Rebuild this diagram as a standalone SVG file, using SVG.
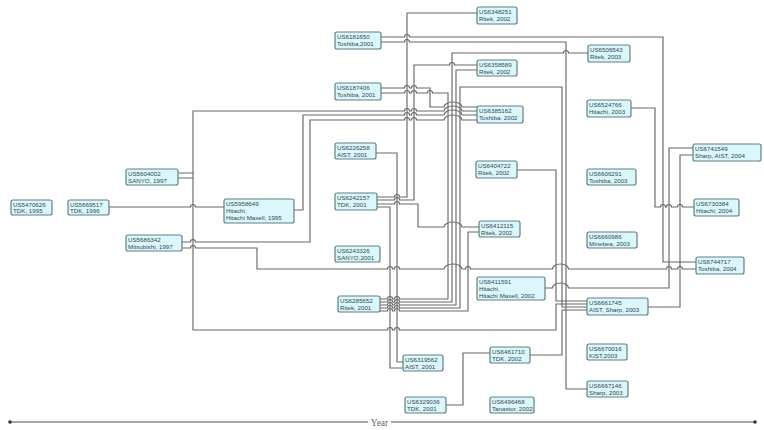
<svg xmlns="http://www.w3.org/2000/svg" width="764" height="430" viewBox="0 0 764 430">
<style>
.n rect{fill:#dcf7fb;stroke:#5f8086;stroke-width:1.2}
.n text{font-family:"Liberation Sans",Arial,sans-serif;font-size:6.2px;fill:#2f4a50}
.c path{fill:none;stroke:#686868;stroke-width:1.15}
.tl{stroke:#555;stroke-width:1}
</style>
<rect width="764" height="430" fill="#ffffff"/>
<g id="connectors" class="c">
<path d="M109 207 H190.5 a2.5 2.5 0 0 1 5 0 H224"/>
<path d="M178 173 H193 V111 H404.5 a2.5 2.5 0 0 1 5 0 H411.5 a2.5 2.5 0 0 1 5 0 H444 a9 5 0 0 1 18 0 H477"/>
<path d="M178 178 H193 M193 173 V330 H387.5 a2.5 2.5 0 0 1 5 0 H394.5 a2.5 2.5 0 0 1 5 0 H556 V304 H587"/>
<path d="M182 242 H190.5 a2.5 2.5 0 0 1 5 0 H310 V120 H404.5 a2.5 2.5 0 0 1 5 0 H411.5 a2.5 2.5 0 0 1 5 0 H444 a9 5 0 0 1 18 0 H477"/>
<path d="M182 248 H190.5 a2.5 2.5 0 0 1 5 0 H257 V269 H387.5 a2.5 2.5 0 0 1 5 0 H394.5 a2.5 2.5 0 0 1 5 0 H444 a9 5 0 0 1 18 0 H465.5 a2.5 2.5 0 0 1 5 0 H552.5 a8 5 0 0 1 16 0 H666.5 a2.5 2.5 0 0 1 5 0 H677.5 a2.5 2.5 0 0 1 5 0 H696"/>
<path d="M294 210 H303 V115 H404.5 a2.5 2.5 0 0 1 5 0 H411.5 a2.5 2.5 0 0 1 5 0 H444 a9 5 0 0 1 18 0 H477"/>
<path d="M381 37 H404.5 a2.5 2.5 0 0 1 5 0 H663 V262 H696"/>
<path d="M381 42 H404.5 a2.5 2.5 0 0 1 5 0 H566 V389 H587"/>
<path d="M377 197 H394.5 a2.5 2.5 0 0 1 5 0 H407 V13 H477"/>
<path d="M377 200 H394.5 a2.5 2.5 0 0 1 5 0 H414 V65 H449.5 a2.5 2.5 0 0 1 5 0 H477"/>
<path d="M377 204 H394.5 a2.5 2.5 0 0 1 5 0 H418 V227 H444 a9 5 0 0 1 18 0 H479"/>
<path d="M377 207 H390 V368 H403"/>
<path d="M376 153 H397 V362 H403"/>
<path d="M381 88 H404.5 a2.5 2.5 0 0 1 5 0 H411.5 a2.5 2.5 0 0 1 5 0 H430 V107 H444 a9 5 0 0 1 18 0 H477"/>
<path d="M381 93 H404.5 a2.5 2.5 0 0 1 5 0 H411.5 a2.5 2.5 0 0 1 5 0 H427.5 a2.5 2.5 0 0 1 5 0 H448 V299 M380 299 H387.5 a2.5 2.5 0 0 1 5 0 H394.5 a2.5 2.5 0 0 1 5 0 H448"/>
<path d="M380 302 H387.5 a2.5 2.5 0 0 1 5 0 H394.5 a2.5 2.5 0 0 1 5 0 H452 V53 H563.5 a2.5 2.5 0 0 1 5 0 H588"/>
<path d="M380 305 H387.5 a2.5 2.5 0 0 1 5 0 H394.5 a2.5 2.5 0 0 1 5 0 H456 V70 H477"/>
<path d="M380 308 H387.5 a2.5 2.5 0 0 1 5 0 H394.5 a2.5 2.5 0 0 1 5 0 H460 V87 H562 V307 H587"/>
<path d="M380 311 H387.5 a2.5 2.5 0 0 1 5 0 H394.5 a2.5 2.5 0 0 1 5 0 H468 V232 H479"/>
<path d="M517 170 H556 V301 H587"/>
<path d="M530 355 H562 V310 H587"/>
<path d="M446 405 H463 V353 H490"/>
<path d="M545 288 H552.5 a8 5 0 0 1 16 0 H669 V148 H693"/>
<path d="M648 307 H680 V155 H693"/>
<path d="M631 108 H655 V207 H660.5 a2.5 2.5 0 0 1 5 0 H666.5 a2.5 2.5 0 0 1 5 0 H677.5 a2.5 2.5 0 0 1 5 0 H694"/>
</g>
<g id="n5470626" class="n"><rect x="11" y="200" width="41" height="15" rx="2"/><text x="13" y="206.5">US5470626</text><text x="13" y="213">TDK, 1995</text></g>
<g id="n5669517" class="n"><rect x="68" y="200" width="41" height="15" rx="2"/><text x="70" y="206.5">US5669517</text><text x="70" y="213">TDK, 1996</text></g>
<g id="n5958649" class="n"><rect x="224" y="199" width="70" height="24" rx="2"/><text x="226" y="206">US5958649</text><text x="226" y="213">Hitachi,</text><text x="226" y="220">Hitachi Maxell, 1995</text></g>
<g id="n5686342" class="n"><rect x="126" y="235" width="56" height="16" rx="2"/><text x="128" y="242">US5686342</text><text x="128" y="248.5">Mitsubishi, 1997</text></g>
<g id="n5604002" class="n"><rect x="126" y="169" width="52" height="16" rx="2"/><text x="128" y="176">US5604002</text><text x="128" y="182.5">SANYO, 1997</text></g>
<g id="n6181650" class="n"><rect x="335" y="32" width="46" height="17" rx="2"/><text x="337" y="39">US6181650</text><text x="337" y="46">Toshiba,2001</text></g>
<g id="n6348251" class="n"><rect x="477" y="7" width="40" height="17" rx="2"/><text x="479" y="14">US6348251</text><text x="479" y="21">Ritek, 2002</text></g>
<g id="n6358589" class="n"><rect x="477" y="60" width="40" height="16" rx="2"/><text x="479" y="67">US6358589</text><text x="479" y="73.5">Ritek, 2002</text></g>
<g id="n6187406" class="n"><rect x="335" y="83" width="46" height="17" rx="2"/><text x="337" y="90">US6187406</text><text x="337" y="97">Toshiba, 2001</text></g>
<g id="n6385162" class="n"><rect x="477" y="106" width="46" height="17" rx="2"/><text x="479" y="113">US6385162</text><text x="479" y="120">Toshiba, 2002</text></g>
<g id="n6226258" class="n"><rect x="335" y="143" width="41" height="16" rx="2"/><text x="337" y="150">US6226258</text><text x="337" y="156.5">AIST, 2001</text></g>
<g id="n6404722" class="n"><rect x="476" y="161" width="41" height="17" rx="2"/><text x="478" y="168">US6404722</text><text x="478" y="175">Ritek, 2002</text></g>
<g id="n6242157" class="n"><rect x="335" y="193" width="42" height="17" rx="2"/><text x="337" y="200">US6242157</text><text x="337" y="207">TDK, 2001</text></g>
<g id="n6412115" class="n"><rect x="479" y="221" width="41" height="16" rx="2"/><text x="481" y="228">US6412115</text><text x="481" y="234.5">Ritek, 2002</text></g>
<g id="n6243326" class="n"><rect x="335" y="246" width="45" height="16" rx="2"/><text x="337" y="253">US6243326</text><text x="337" y="259.5">SANYO,2001</text></g>
<g id="n6411591" class="n"><rect x="477" y="277" width="68" height="23" rx="2"/><text x="479" y="284">US6411591</text><text x="479" y="291">Hitachi,</text><text x="479" y="298">Hitachi Maxell, 2002</text></g>
<g id="n6285652" class="n"><rect x="338" y="296" width="42" height="16" rx="2"/><text x="340" y="303">US6285652</text><text x="340" y="309.5">Ritek, 2001</text></g>
<g id="n6319562" class="n"><rect x="403" y="355" width="40" height="16" rx="2"/><text x="405" y="362">US6319562</text><text x="405" y="368.5">AIST, 2001</text></g>
<g id="n6461710" class="n"><rect x="490" y="347" width="40" height="16" rx="2"/><text x="492" y="354">US6461710</text><text x="492" y="360.5">TDK, 2002</text></g>
<g id="n6329036" class="n"><rect x="405" y="397" width="41" height="16" rx="2"/><text x="407" y="404">US6329036</text><text x="407" y="410.5">TDK, 2001</text></g>
<g id="n6496468" class="n"><rect x="490" y="397" width="44" height="16" rx="2"/><text x="492" y="404">US6496468</text><text x="492" y="410.5">Tanastor, 2002</text></g>
<g id="n6506543" class="n"><rect x="588" y="45" width="42" height="17" rx="2"/><text x="590" y="52">US6506543</text><text x="590" y="59">Ritek, 2003</text></g>
<g id="n6524766" class="n"><rect x="587" y="100" width="44" height="17" rx="2"/><text x="589" y="107">US6524766</text><text x="589" y="114">Hitachi, 2003</text></g>
<g id="n6606291" class="n"><rect x="587" y="169" width="49" height="16" rx="2"/><text x="589" y="176">US6606291</text><text x="589" y="182.5">Toshiba, 2003</text></g>
<g id="n6660986" class="n"><rect x="587" y="232" width="50" height="16" rx="2"/><text x="589" y="239">US6660986</text><text x="589" y="245.5">Minebea, 2003</text></g>
<g id="n6741549" class="n"><rect x="693" y="144" width="68" height="17" rx="2"/><text x="695" y="151">US6741549</text><text x="695" y="158">Sharp, AIST, 2004</text></g>
<g id="n6730384" class="n"><rect x="694" y="199" width="45" height="17" rx="2"/><text x="696" y="206">US6730384</text><text x="696" y="213">Hitachi, 2004</text></g>
<g id="n6744717" class="n"><rect x="696" y="257" width="48" height="17" rx="2"/><text x="698" y="264">US6744717</text><text x="698" y="271">Toshiba, 2004</text></g>
<g id="n6661745" class="n"><rect x="587" y="298" width="61" height="17" rx="2"/><text x="589" y="305">US6661745</text><text x="589" y="312">AIST, Sharp, 2003</text></g>
<g id="n6670016" class="n"><rect x="587" y="344" width="40" height="16" rx="2"/><text x="589" y="351">US6670016</text><text x="589" y="357.5">KIST,2003</text></g>
<g id="n6667146" class="n"><rect x="587" y="381" width="41" height="16" rx="2"/><text x="589" y="388">US6667146</text><text x="589" y="394.5">Sharp, 2003</text></g>
<g id="timeline">
<line class="tl" x1="10" y1="422" x2="368" y2="422"/>
<line class="tl" x1="391" y1="422" x2="755" y2="422"/>
<circle cx="10" cy="422" r="1.8" fill="#333"/>
<circle cx="755" cy="422" r="1.8" fill="#333"/>
<text x="379.5" y="425.5" text-anchor="middle" font-family="Liberation Serif, serif" font-size="9.5" fill="#666">Year</text>
</g>
</svg>
